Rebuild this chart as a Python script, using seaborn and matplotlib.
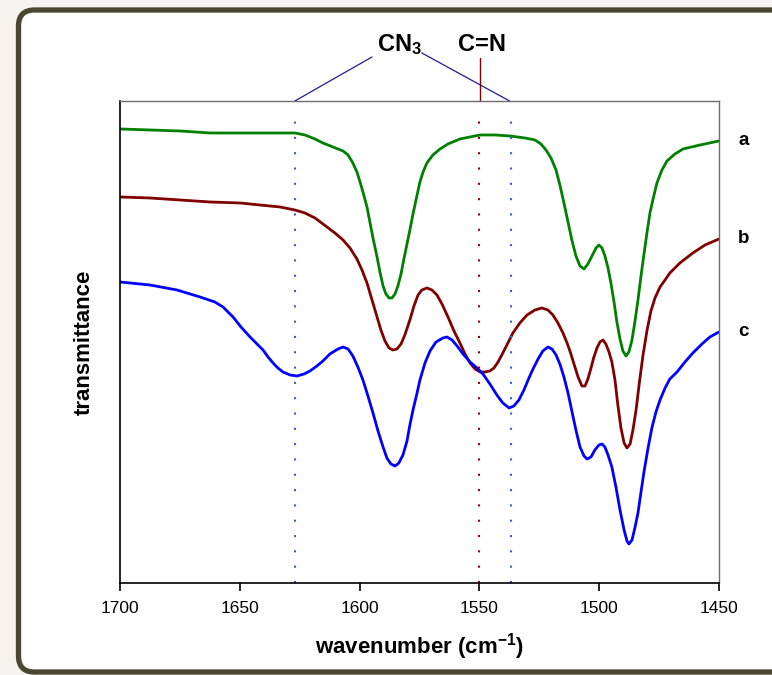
import matplotlib
matplotlib.use("Agg")
import matplotlib.pyplot as plt
import seaborn as sns
import pandas as pd
from matplotlib.patches import FancyBboxPatch

# spectra; transmittance in arbitrary units (no y scale shown)
wn_a = [1700.0, 1687.5, 1675.0, 1662.4, 1645.7, 1627.0, 1622.8, 1618.6, 1615.3, 1611.1,
        1606.9, 1604.8, 1602.8, 1601.1, 1599.8, 1598.6, 1596.9, 1595.7, 1594.4, 1592.7,
        1591.5, 1590.2, 1589.0, 1587.7, 1586.5, 1585.2, 1584.0, 1582.7, 1581.5, 1580.2,
        1579.0, 1577.7, 1576.0, 1574.8, 1573.5, 1571.9, 1569.4, 1566.4, 1563.1, 1558.1,
        1549.7, 1543.5, 1537.2, 1531.0, 1526.8, 1524.3, 1522.2, 1520.1, 1518.0, 1516.4,
        1514.7, 1513.0, 1511.4, 1509.7, 1508.0, 1506.3, 1504.7, 1503.0, 1501.3, 1500.1,
        1498.8, 1497.6, 1496.3, 1495.1, 1493.8, 1492.6, 1491.3, 1490.1, 1488.8, 1487.6,
        1486.3, 1485.1, 1483.8, 1482.6, 1481.3, 1480.0, 1478.8, 1477.5, 1475.9, 1473.8,
        1471.7, 1468.4, 1465.0, 1457.9, 1450.0]
tr_a = [454, 453, 452, 450, 450, 450, 448, 444, 440, 436,
        432, 428, 420, 411, 401, 391, 376, 361, 345, 326,
        311, 297, 289, 285, 285, 289, 297, 309, 324, 339,
        353, 369, 388, 401, 411, 420, 428, 434, 439, 444,
        448, 448, 447, 445, 443, 439, 433, 425, 413, 398,
        380, 361, 343, 327, 317, 314, 319, 327, 335, 338,
        335, 327, 315, 300, 281, 261, 244, 232, 227, 231,
        243, 261, 283, 306, 329, 351, 370, 384, 400, 413,
        422, 429, 434, 438, 442]

wn_b = [1700.0, 1687.5, 1675.0, 1662.4, 1649.9, 1641.6, 1633.2, 1627.0, 1622.8, 1618.6,
        1613.6, 1610.3, 1606.9, 1604.0, 1601.1, 1599.0, 1596.9, 1594.8, 1592.7, 1591.1,
        1589.4, 1587.7, 1586.1, 1584.4, 1582.7, 1581.1, 1579.0, 1577.3, 1575.6, 1574.0,
        1571.9, 1569.8, 1567.7, 1565.6, 1563.1, 1560.6, 1558.1, 1556.0, 1553.9, 1551.8,
        1549.7, 1547.7, 1545.6, 1543.9, 1542.2, 1540.2, 1538.1, 1536.0, 1533.1, 1530.1,
        1526.8, 1523.9, 1521.4, 1519.3, 1517.2, 1515.1, 1513.4, 1512.2, 1510.5, 1508.8,
        1507.2, 1505.9, 1504.7, 1503.4, 1502.2, 1500.9, 1499.7, 1498.4, 1497.2, 1495.9,
        1494.7, 1493.4, 1492.2, 1490.9, 1489.6, 1488.4, 1487.1, 1485.9, 1484.6, 1483.4,
        1481.7, 1480.0, 1478.4, 1476.7, 1474.6, 1472.5, 1470.5, 1466.3, 1460.9, 1455.8,
        1450.0]
tr_b = [386, 385, 383, 381, 380, 378, 376, 373, 370, 365,
        356, 350, 343, 335, 324, 313, 300, 283, 266, 253,
        242, 235, 233, 234, 239, 248, 263, 277, 288, 293,
        295, 293, 288, 279, 266, 252, 240, 229, 220, 214,
        211, 211, 212, 215, 221, 230, 240, 250, 260, 268,
        273, 275, 273, 268, 260, 250, 240, 232, 219, 206,
        197, 197, 204, 215, 226, 235, 241, 243, 239, 231,
        221, 203, 178, 155, 140, 135, 139, 153, 173, 197,
        228, 253, 272, 285, 296, 303, 310, 320, 330, 338,
        344]

wn_c = [1700.0, 1687.5, 1676.2, 1666.6, 1660.4, 1657.0, 1652.8, 1649.5, 1645.7, 1642.8,
        1640.3, 1638.2, 1636.1, 1634.1, 1632.0, 1629.0, 1626.1, 1623.2, 1620.7, 1617.8,
        1615.3, 1612.4, 1609.0, 1606.9, 1604.8, 1602.8, 1600.7, 1598.6, 1596.5, 1594.4,
        1592.3, 1590.2, 1588.6, 1586.9, 1585.2, 1583.6, 1581.9, 1580.2, 1579.0, 1577.7,
        1576.0, 1574.8, 1572.7, 1570.6, 1568.1, 1565.2, 1563.5, 1561.4, 1559.3, 1556.8,
        1553.9, 1551.0, 1548.5, 1545.6, 1542.7, 1540.2, 1537.6, 1535.6, 1533.5, 1531.4,
        1529.3, 1527.6, 1525.5, 1523.5, 1521.4, 1519.7, 1518.0, 1516.4, 1514.7, 1513.0,
        1511.4, 1509.7, 1508.0, 1506.3, 1505.1, 1503.4, 1501.8, 1500.1, 1498.8, 1497.6,
        1496.3, 1494.7, 1493.0, 1491.3, 1489.6, 1488.4, 1487.6, 1486.3, 1485.1, 1483.8,
        1482.6, 1481.3, 1479.6, 1478.0, 1476.3, 1474.6, 1472.5, 1470.5, 1467.5, 1464.2,
        1460.9, 1457.1, 1453.8, 1450.0]
tr_c = [301, 298, 293, 286, 281, 276, 266, 256, 246, 239,
        233, 226, 220, 215, 211, 208, 207, 209, 212, 217,
        222, 229, 234, 236, 234, 227, 216, 203, 187, 170,
        152, 136, 125, 119, 117, 120, 128, 142, 158, 173,
        190, 203, 220, 232, 241, 245, 246, 243, 237, 229,
        221, 215, 209, 199, 188, 180, 175, 177, 183, 193,
        205, 214, 224, 232, 236, 234, 228, 219, 206, 190,
        172, 153, 136, 127, 124, 126, 133, 138, 139, 136,
        128, 116, 96, 73, 53, 42, 39, 43, 55, 70,
        90, 111, 135, 155, 171, 183, 195, 204, 211, 221,
        230, 239, 246, 251]

labels = ["a", "b", "c"]
colors = ["#008000", "#800000", "#0000ff"]

# band positions marked with dotted lines
band_cn3 = [1627, 1537]
band_cn = 1550

sns.set_theme(style="white")
plt.rcParams["font.family"] = ["Liberation Sans", "DejaVu Sans"]
plt.rcParams["mathtext.fontset"] = "custom"
plt.rcParams["mathtext.rm"] = "Liberation Sans"
plt.rcParams["mathtext.bf"] = "Liberation Sans:bold"
plt.rcParams["mathtext.default"] = "bf"
plt.rcParams["text.color"] = "black"
plt.rcParams["axes.labelcolor"] = "black"
plt.rcParams["xtick.color"] = "black"

fig = plt.figure(figsize=(7.72, 6.75), dpi=100, facecolor="#f5f2f0")
frame = FancyBboxPatch((0.185, 0.03), 7.8, 6.62, boxstyle="round,pad=0,rounding_size=0.16",
                       transform=fig.dpi_scale_trans, facecolor="white", edgecolor="#4a4731",
                       linewidth=3.8, zorder=-1)
fig.patches.append(frame)

ax = fig.add_axes([0.1554, 0.1363, 0.7759, 0.7141])

df = pd.concat([
    pd.DataFrame({"wavenumber": wn, "transmittance": tr, "sample": lab})
    for wn, tr, lab in zip([wn_a, wn_b, wn_c], [tr_a, tr_b, tr_c], labels)
])
for lab, col in zip(labels, colors):
    sub = df[df["sample"] == lab]
    sns.lineplot(data=sub, x="wavenumber", y="transmittance", color=col, linewidth=2.0,
                 sort=False, estimator=None, ax=ax, solid_joinstyle="round")
    ax.text(1442, sub["transmittance"].iloc[-1], lab, fontsize=13.5, fontweight="bold",
            ha="left", va="center", clip_on=False)

# dotted band markers
for b in band_cn3:
    ax.plot([b, b], [0, 466], color="#3a5fcd", linewidth=1.5, linestyle=(0, (1, 6.35)))
ax.plot([band_cn, band_cn], [0, 466], color="#990000", linewidth=1.5, linestyle=(0, (1, 6.35)))

# annotation lines above the plot
ax.plot([1627, 1594.8], [482, 526], color="#1c1c9c", linewidth=0.9, clip_on=False)
ax.plot([1574.0, 1537.4], [530, 482], color="#1c1c9c", linewidth=0.9, clip_on=False)
ax.plot([1549.8, 1549.8], [482, 525], color="#800000", linewidth=1.0, clip_on=False)
ax.text(1583.5, 538, "CN$_3$", fontsize=17, fontweight="bold", ha="center", va="center")
ax.text(1548.9, 538, "C=N", fontsize=17, fontweight="bold", ha="center", va="center")

ax.set_xlim(1700, 1450)
ax.set_ylim(0, 482)
ax.set_xticks([1700, 1650, 1600, 1550, 1500, 1450])
ax.set_yticks([])
ax.tick_params(axis="x", direction="out", length=6, width=1.2, labelsize=12.5, pad=7,
               bottom=True, color="black")
ax.set_xlabel("wavenumber (cm$^{-1}$)", fontsize=16, fontweight="bold", labelpad=11)
ax.set_ylabel("transmittance", fontsize=16, fontweight="bold", labelpad=18)

for side in ["left", "bottom"]:
    ax.spines[side].set_color("black")
    ax.spines[side].set_linewidth(1.2)
for side in ["top", "right"]:
    ax.spines[side].set_color("#6e6e6e")
    ax.spines[side].set_linewidth(1.0)

fig.savefig("out.png", dpi=100, facecolor=fig.get_facecolor())
